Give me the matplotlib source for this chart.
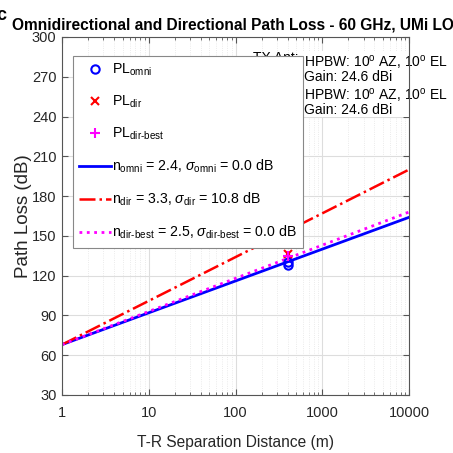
import matplotlib

matplotlib.use("Agg")
import matplotlib.pyplot as plt

# path loss lines (endpoints, log-distance model drawn straight on log x)
d_line = [1, 10000]
pl_omni_line = [68, 164]
pl_dir_line = [68, 200]
pl_best_line = [68, 168]

# measured points near 400 m
d_omni = [400, 400]
pl_omni = [128, 130]
d_dir = [400, 400, 400, 400]
pl_dir = [136, 150, 165, 180]
d_best = [400]
pl_best = [135]

labels = [
    r"PL$_{\mathrm{omni}}$",
    r"PL$_{\mathrm{dir}}$",
    r"PL$_{\mathrm{dir\text{-}best}}$",
    r"n$_{\mathrm{omni}}$ = 2.4, $\sigma_{\mathrm{omni}}$ = 0.0 dB",
    r"n$_{\mathrm{dir}}$ = 3.3, $\sigma_{\mathrm{dir}}$ = 10.8 dB",
    r"n$_{\mathrm{dir\text{-}best}}$ = 2.5, $\sigma_{\mathrm{dir\text{-}best}}$ = 0.0 dB",
]
ant_text = "HPBW: 10$^{\\mathrm{o}}$ AZ, 10$^{\\mathrm{o}}$ EL\nGain: 24.6 dBi"

plt.rcParams.update(
    {
        "font.family": ["Liberation Sans", "DejaVu Sans"],
        "mathtext.fontset": "custom",
        "mathtext.rm": "Liberation Sans",
        "mathtext.it": "Liberation Sans:italic",
        "mathtext.bf": "Liberation Sans:bold",
        "axes.edgecolor": "#555555",
        "xtick.color": "#555555",
        "ytick.color": "#555555",
        "xtick.labelcolor": "#262626",
        "ytick.labelcolor": "#262626",
    }
)

fig = plt.figure(figsize=(4.53, 4.53), dpi=100)
ax = fig.add_axes([62 / 453, 58 / 453, 347 / 453, 358 / 453])

h1, = ax.plot(d_omni, pl_omni, "o", ms=6, mfc="none", mec="blue", mew=1.5, zorder=3)
h2, = ax.plot(d_dir, pl_dir, "x", ms=6, color="red", mew=1.5, zorder=3)
h3, = ax.plot(d_best, pl_best, "+", ms=7, color="magenta", mew=1.5, zorder=3)
h4, = ax.plot(d_line, pl_omni_line, "-", color="blue", lw=2)
h5, = ax.plot(d_line, pl_dir_line, "-.", color="red", lw=1.8)
h6, = ax.plot(d_line, pl_best_line, ":", color="magenta", lw=2)

ax.set_xscale("log")
ax.set_xlim(1, 10000)
ax.set_ylim(30, 300)
ax.set_yticks(range(30, 301, 30))
ax.set_xticks([1, 10, 100, 1000, 10000])
ax.set_xticklabels(["1", "10", "100", "1000", "10000"])
ax.tick_params(which="both", direction="in", top=True, right=True, labelsize=10.5)
ax.tick_params(axis="x", pad=8)
ax.tick_params(axis="y", pad=4)
ax.tick_params(which="major", length=4)
ax.tick_params(which="minor", length=2)
ax.grid(True, which="major", color="#dddddd", lw=0.8)
ax.grid(True, which="minor", axis="x", color="#e4e4e4", lw=0.6, ls=":")
ax.set_axisbelow(True)

ax.set_xlabel("T-R Separation Distance (m)", fontsize=11.2, color="#262626", labelpad=11)
ax.set_ylabel("Path Loss (dB)", fontsize=13.5, color="#262626", labelpad=0)

# antenna notes, partly covered by the legend
ax.text(0.55, 0.962, "TX Ant:", transform=ax.transAxes, fontsize=10, va="top", zorder=1)
ax.text(0.697, 0.956, ant_text, transform=ax.transAxes, fontsize=10, va="top",
        linespacing=0.9, zorder=2, clip_on=False,
        bbox=dict(boxstyle="square,pad=0.05", fc="white", ec="none"))
ax.text(0.697, 0.864, ant_text, transform=ax.transAxes, fontsize=10, va="top",
        linespacing=0.9, zorder=2, clip_on=False,
        bbox=dict(boxstyle="square,pad=0.05", fc="white", ec="none"))

leg = ax.legend(
    [h1, h2, h3, h4, h5, h6],
    labels,
    loc="upper left",
    bbox_to_anchor=(0.032, 0.948),
    borderaxespad=0,
    fontsize=10.2,
    frameon=True,
    fancybox=False,
    edgecolor="#888888",
    framealpha=1,
    handlelength=2.2,
    handletextpad=0.1,
    labelspacing=1.1,
    borderpad=0.45,
)
leg.set_zorder(5)
leg.get_frame().set_linewidth(0.8)

fig.text(12 / 453, 1 - 29 / 453,
         "Omnidirectional and Directional Path Loss - 60 GHz, UMi LOS",
         fontsize=11.2, fontweight="bold", va="baseline")
fig.text(-4 / 453, 1 - 20 / 453, "c", fontsize=13, fontweight="bold", va="baseline")

fig.savefig("out.png", dpi=100)
